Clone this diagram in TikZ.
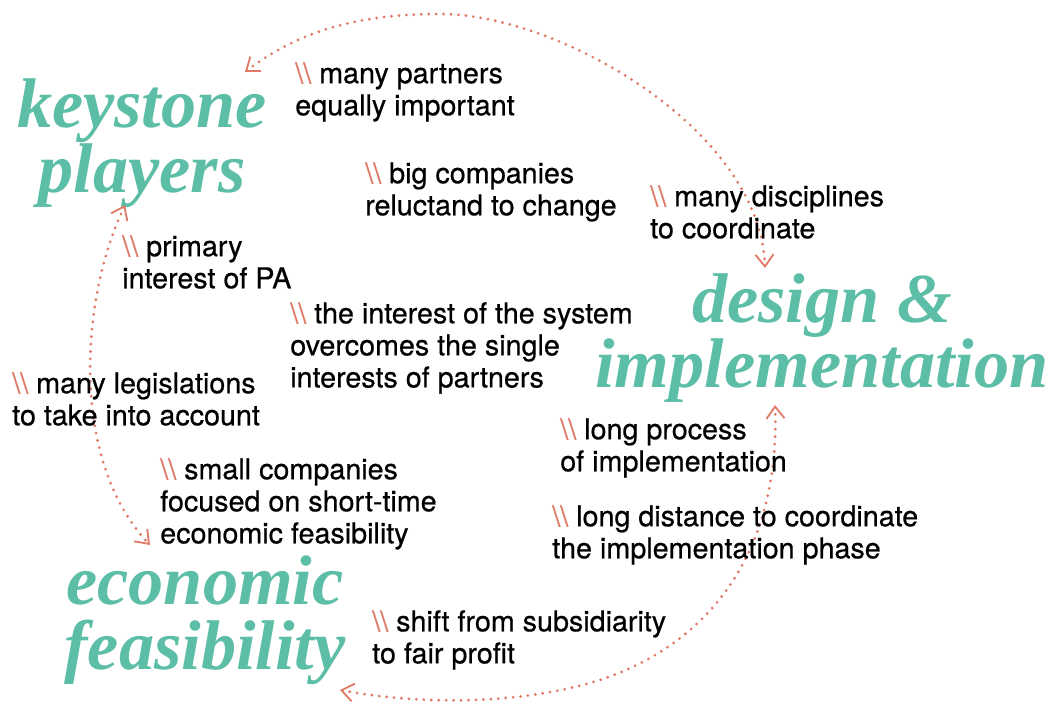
\documentclass[tikz,border=0pt]{standalone}
\usepackage{fontspec}
\setsansfont{TeX Gyre Heros}[FakeBold=0.6]
\newfontfamily\bigfont{Liberation Serif}
\usepackage{xcolor}
\usetikzlibrary{arrows.meta}
\definecolor{teal1}{RGB}{92,190,166}
\definecolor{salmon1}{RGB}{224,122,102}
\newcommand{\bsl}{{\color{salmon1}\textbackslash\textbackslash}\ }

\begin{document}
\begin{tikzpicture}[x=0.025cm,y=-0.025cm]
  \tikzstyle{big}=[align=center,inner sep=0,text=teal1,font=\bigfont\fontsize{50}{46}\selectfont\bfseries\itshape]
  \tikzstyle{note}=[align=left,anchor=north west,inner sep=0,font=\sffamily\fontsize{20.4}{22.8}\selectfont]
  \tikzstyle{link}=[salmon1,line width=2.2pt,line cap=round,dash pattern=on 0pt off 5.3pt,{Straight Barb[length=3mm,width=4.5mm,line width=1.3pt]}-{Straight Barb[length=3mm,width=4.5mm,line width=1.3pt]}]
  \useasboundingbox (0,0) rectangle (1056,704);
  % main topics
  \node[big] (kp) at (142,143) {keystone\\players};
  \node[big] (di) at (822,338) {design \&\\implementation};
  \node[big] (ef) at (205,620) {economic\\feasibility};
  % arrow ends
  \coordinate (kpr) at (245,72);
  \coordinate (kpb) at (125,205);
  \coordinate (dit) at (765,268);
  \coordinate (dib) at (775,405);
  \coordinate (eft) at (150,545);
  \coordinate (efr) at (340,690);
  \draw[link] (kpr) .. controls (300,30) and (360,14) .. (440,14)
    .. controls (560,14) and (760,130) .. (dit);
  \draw[link] (kpb) .. controls (80,300) and (70,460) .. (eft);
  \draw[link] (efr) .. controls (420,705) and (520,705) .. (600,680)
    .. controls (720,640) and (780,540) .. (dib);
  % notes
  \node[note] (n1) at (295,62) {\bsl many partners\\equally important};
  \node[note] (n2) at (365,162) {\bsl big companies\\reluctand to change};
  \node[note] (n3) at (650,185) {\bsl many disciplines\\to coordinate};
  \node[note] (n4) at (122,235) {\bsl primary\\interest of PA};
  \node[note] (n5) at (290,302) {\bsl the interest of the system\\overcomes the single\\interests of partners};
  \node[note] (n6) at (12,372) {\bsl many legislations\\to take into account};
  \node[note] (n7) at (160,458) {\bsl small companies\\focused on short-time\\economic feasibility};
  \node[note] (n8) at (560,418) {\bsl long process\\of implementation};
  \node[note] (n9) at (552,505) {\bsl long distance to coordinate\\the implementation phase};
  \node[note] (n10) at (372,610) {\bsl shift from subsidiarity\\to fair profit};
\end{tikzpicture}
\end{document}
